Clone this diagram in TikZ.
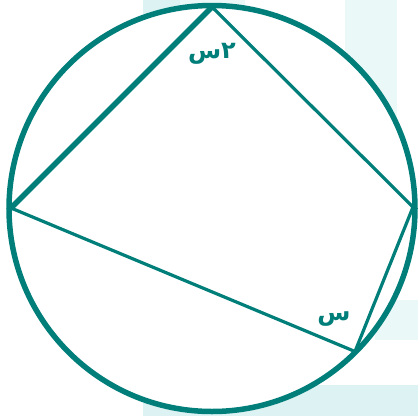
\documentclass[tikz,border=0pt]{standalone}
\usepackage{fontspec}
\newfontfamily\arabicfont[Script=Arabic]{DejaVu Sans}
\TeXXeTstate=1
\definecolor{teal1}{HTML}{007E7A}
\definecolor{wm}{HTML}{DDF3F3}
\definecolor{wm2}{HTML}{EBF8F8}
\tikzset{
  rim/.style={draw=teal1, line width=5.5pt, fill=white},
  side/.style={draw=teal1, line width=3.2pt, line join=round},
  thickside/.style={draw=teal1, line width=5.5pt, line cap=round},
  lbl/.style={text=teal1, font=\arabicfont\bfseries\fontsize{24}{26}\selectfont, inner sep=0pt}
}
\begin{document}
\begin{tikzpicture}[x=1pt,y=-1pt]
\useasboundingbox (0,0) rectangle (418,416);
% watermark background
\fill[wm2] (143,0) rectangle (245,60);
\fill[wm] (143,0) rectangle (180,40);
\fill[wm2] (345,0) rectangle (397,200);
\fill[wm] (143,385) rectangle (418,416);
\fill[wm2] (375,300) rectangle (418,340);
% circle
\coordinate (O) at (212,208.5);
\draw[rim] (O) circle (203);
% vertices
\coordinate (A) at (212,7);
\coordinate (B) at (11,208);
\coordinate (C) at (355,351.5);
\coordinate (D) at (413,207);
\draw[side] (A) -- (D) -- (C) -- (B);
\draw[thickside] (B) -- (A);
\node[lbl] (L1) at (212,54) {\beginR ٢س\endR};
\node[lbl] (L2) at (334,319) {\beginR س\endR};
\end{tikzpicture}
\end{document}
